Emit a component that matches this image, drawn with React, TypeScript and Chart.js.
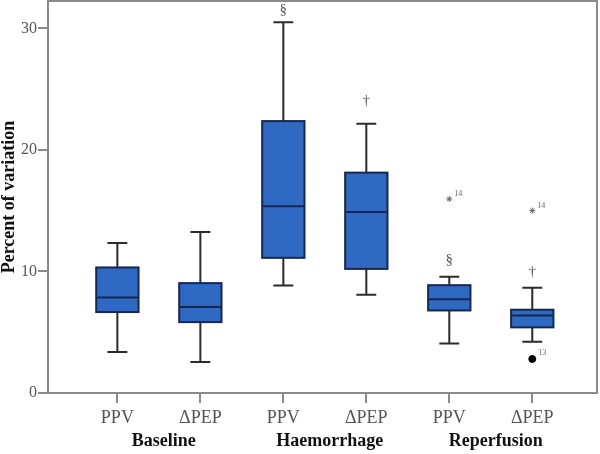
import React, { useEffect, useRef } from 'react';
import { Chart, registerables } from 'chart.js';

Chart.register(...registerables);

const categories = ['PPV', 'ΔPEP', 'PPV', 'ΔPEP', 'PPV', 'ΔPEP'];
const groups = ['Baseline', 'Haemorrhage', 'Reperfusion'];
const positions = [1, 2, 3, 4, 5, 6];
const whiskerLow = [3.37, 2.55, 8.85, 8.08, 4.08, 4.22];
const q1 = [6.66, 5.83, 11.12, 10.21, 6.79, 5.4];
const median = [7.86, 7.07, 15.37, 14.9, 7.72, 6.38];
const q3 = [10.33, 9.04, 22.37, 18.13, 8.87, 6.85];
const whiskerHigh = [12.35, 13.25, 30.5, 22.16, 9.56, 8.65];

const extremeX = [5, 6];
const extremeY = [15.96, 15.0];
const extremeLabels = ['14', '14'];
const outlierX = [6];
const outlierY = [2.8];
const outlierLabels = ['13'];

const markSymbols = ['', '', '§', '†', '§', '†'];
const markY = [null, null, 31.5, 24.0, 10.9, 9.97];

const yTicks = [0, 10, 20, 30];

const SERIF = '"Liberation Serif", "Times New Roman", serif';

const boxPlugin = {
  id: 'boxes',
  beforeDatasetsDraw(chart: any) {
    const { ctx, chartArea } = chart;
    const x = chart.scales.x;
    const y = chart.scales.y;
    // frame (top and right)
    ctx.save();
    ctx.strokeStyle = '#8a8a8a';
    ctx.lineWidth = 2;
    ctx.beginPath();
    ctx.moveTo(chartArea.left, chartArea.top);
    ctx.lineTo(chartArea.right, chartArea.top);
    ctx.lineTo(chartArea.right, chartArea.bottom);
    ctx.stroke();

    const boxHalf = 0.255;
    const capHalf = 0.12;
    positions.forEach((p, i) => {
      const cx = x.getPixelForValue(p);
      const bl = x.getPixelForValue(p - boxHalf);
      const br = x.getPixelForValue(p + boxHalf);
      const cl = x.getPixelForValue(p - capHalf);
      const cr = x.getPixelForValue(p + capHalf);
      const yLo = y.getPixelForValue(whiskerLow[i]);
      const yHi = y.getPixelForValue(whiskerHigh[i]);
      const yQ1 = y.getPixelForValue(q1[i]);
      const yQ3 = y.getPixelForValue(q3[i]);
      const yMed = y.getPixelForValue(median[i]);
      // whiskers
      ctx.strokeStyle = '#2b2b2b';
      ctx.lineWidth = 2;
      ctx.beginPath();
      ctx.moveTo(cx, yHi);
      ctx.lineTo(cx, yQ3);
      ctx.moveTo(cx, yQ1);
      ctx.lineTo(cx, yLo);
      ctx.moveTo(cl, yHi);
      ctx.lineTo(cr, yHi);
      ctx.moveTo(cl, yLo);
      ctx.lineTo(cr, yLo);
      ctx.stroke();
      // box
      ctx.fillStyle = '#2e6ac3';
      ctx.fillRect(bl, yQ3, br - bl, yQ1 - yQ3);
      ctx.strokeStyle = '#16284f';
      ctx.lineWidth = 2;
      ctx.strokeRect(bl, yQ3, br - bl, yQ1 - yQ3);
      // median
      ctx.beginPath();
      ctx.moveTo(bl, yMed);
      ctx.lineTo(br, yMed);
      ctx.stroke();
      // significance marks
      if (markSymbols[i] && markY[i] !== null) {
        ctx.fillStyle = '#555';
        ctx.font = `15px ${SERIF}`;
        ctx.textAlign = 'center';
        ctx.textBaseline = 'middle';
        ctx.fillText(markSymbols[i], cx, y.getPixelForValue(markY[i] as number));
      }
    });

    // outlier labels
    ctx.fillStyle = '#666';
    ctx.font = `8px ${SERIF}`;
    ctx.textAlign = 'left';
    ctx.textBaseline = 'middle';
    extremeX.forEach((v, i) => {
      ctx.fillText(extremeLabels[i], x.getPixelForValue(v) + 5, y.getPixelForValue(extremeY[i]) - 5);
    });
    outlierX.forEach((v, i) => {
      ctx.fillText(outlierLabels[i], x.getPixelForValue(v) + 6, y.getPixelForValue(outlierY[i]) - 6);
    });

    // group labels
    ctx.fillStyle = '#111';
    ctx.font = `bold 18px ${SERIF}`;
    ctx.textAlign = 'center';
    ctx.textBaseline = 'middle';
    groups.forEach((g, i) => {
      const mid = (positions[2 * i] + positions[2 * i + 1]) / 2;
      ctx.fillText(g, x.getPixelForValue(mid) + 5, 441);
    });
    ctx.restore();
  },
};

export default function App() {
  const ref = useRef<HTMLCanvasElement | null>(null);

  useEffect(() => {
    if (!ref.current) return;
    const chart = new Chart(ref.current, {
      type: 'scatter',
      data: {
        datasets: [
          {
            label: 'extremes',
            data: extremeX.map((v, i) => ({ x: v, y: extremeY[i] })),
            pointStyle: 'star',
            pointRadius: 3,
            borderColor: '#666',
            borderWidth: 1,
            backgroundColor: '#666',
          },
          {
            label: 'outliers',
            data: outlierX.map((v, i) => ({ x: v, y: outlierY[i] })),
            pointStyle: 'circle',
            pointRadius: 3.5,
            borderColor: '#000',
            backgroundColor: '#000',
          },
        ],
      },
      options: {
        responsive: false,
        animation: false,
        layout: { autoPadding: false, padding: { top: 1, right: 3, left: 0, bottom: 0 } },
        plugins: {
          legend: { display: false },
          tooltip: { enabled: false },
        },
        scales: {
          x: {
            type: 'linear',
            min: 0.164,
            max: 6.78,
            afterBuildTicks: (scale: any) => {
              scale.ticks = positions.map((v) => ({ value: v }));
            },
            afterFit: (scale: any) => {
              scale.height = 61;
              scale.paddingLeft = 0;
              scale.paddingRight = 0;
            },
            grid: {
              drawOnChartArea: false,
              drawTicks: true,
              tickLength: 10,
              color: '#8a8a8a',
              lineWidth: 2,
            },
            border: { color: '#8a8a8a', width: 2 },
            ticks: {
              autoSkip: false,
              maxRotation: 0,
              padding: 4,
              color: '#555',
              font: { family: SERIF, size: 18 },
              callback: (_v: any, idx: number) => categories[idx],
            },
          },
          y: {
            type: 'linear',
            min: 0,
            max: 32.25,
            afterBuildTicks: (scale: any) => {
              scale.ticks = yTicks.map((v) => ({ value: v }));
            },
            afterFit: (scale: any) => {
              scale.width = 48;
              scale.paddingTop = 0;
              scale.paddingBottom = 0;
            },
            grid: {
              drawOnChartArea: false,
              drawTicks: true,
              tickLength: 10,
              color: '#8a8a8a',
              lineWidth: 2,
            },
            border: { color: '#8a8a8a', width: 2 },
            ticks: {
              padding: 1,
              color: '#555',
              font: { family: SERIF, size: 16 },
            },
            title: {
              display: true,
              text: 'Percent of variation',
              color: '#111',
              padding: 0,
              font: { family: SERIF, size: 18, weight: 'bold', lineHeight: 1 },
            },
          },
        },
      },
      plugins: [boxPlugin],
    } as any);
    return () => chart.destroy();
  }, []);

  return (
    <div style={{ position: 'absolute', left: 0, top: 0, width: 600, height: 454, background: '#fff' }}>
      <canvas ref={ref} width={600} height={454} />
    </div>
  );
}
